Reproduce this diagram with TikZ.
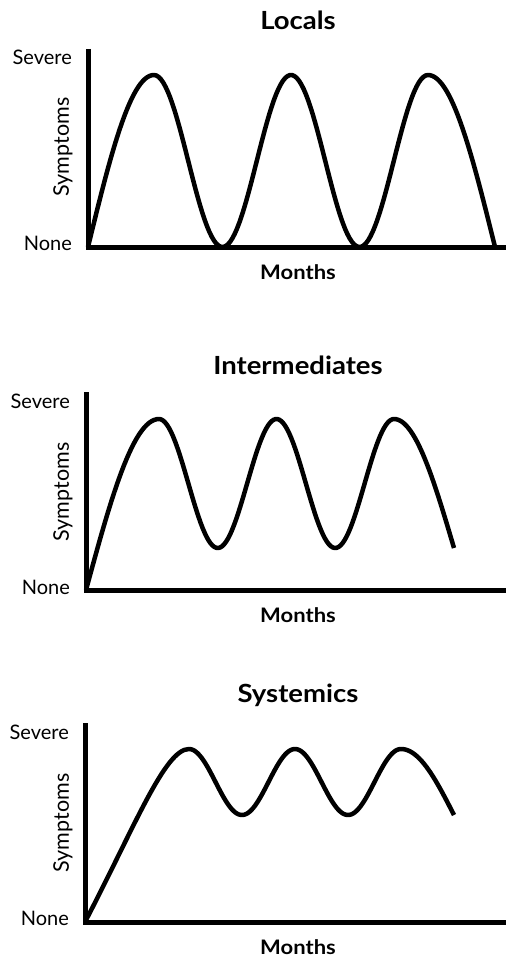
\documentclass[tikz,border=0pt]{standalone}
\usepackage{fontspec}
\setmainfont{Lato}[BoldFeatures={FakeStretch=1.1}]
\usepackage{tikz}
\usetikzlibrary{positioning}

\tikzset{
  axisline/.style={line width=5pt, line join=miter},
  symcurve/.style={line width=4.5pt, line cap=butt, line join=round},
  levlabel/.style={anchor=east, inner sep=0pt, font=\fontsize{20}{24}\selectfont},
  sympt/.style={rotate=90, inner sep=0pt, font=\fontsize{21.5}{26}\selectfont},
  monthlab/.style={inner sep=0pt, font=\fontsize{20}{24}\selectfont\bfseries},
  grouptitle/.style={inner sep=0pt, font=\fontsize{25}{30}\selectfont\bfseries}
}

\begin{document}
\begin{tikzpicture}[x=1pt, y=-1pt]
  \useasboundingbox (0,0) rectangle (506,960);

  % LOCALS
  \coordinate (top1) at (88,49);
  \coordinate (org1) at (88,247);
  \coordinate (end1) at (506,247);
  \draw[axisline] (top1) -- (org1) -- (end1);
  \node[grouptitle] (title1) at (298,20) {Locals};
  \node[levlabel] (sev1) at (72,57) {Severe};
  \node[levlabel] (non1) at (72,243) {None};
  \node[sympt] (sym1) at (63,147) {Symptoms};
  \node[monthlab] (mon1) at (298,272) {Months};
  \draw[symcurve]
    plot[domain=88:154, samples=30] ({\x},{247-172*sin(90*(\x-88)/66)})
    -- plot[domain=154:428, samples=120] ({\x},{247-86*(1+cos((\x-154)*2.6277))})
    -- plot[domain=428:495, samples=30] ({\x},{247-172*cos(90*(\x-428)/67)});

  % INTERMEDIATES
  \coordinate (top2) at (86,392);
  \coordinate (org2) at (86,590);
  \coordinate (end2) at (506,590);
  \draw[axisline] (top2) -- (org2) -- (end2);
  \node[grouptitle] (title2) at (298,365) {Intermediates};
  \node[levlabel] (sev2) at (70,401) {Severe};
  \node[levlabel] (non2) at (70,587) {None};
  \node[sympt] (sym2) at (63,492) {Symptoms};
  \node[monthlab] (mon2) at (298,615) {Months};
  \draw[symcurve]
    plot[domain=86:159, samples=30] ({\x},{590-171*sin(90*(\x-86)/73)})
    -- plot[domain=159:394, samples=120] ({\x},{548-64.5*(1+cos((\x-159)*3.0638))})
    -- plot[domain=394:454, samples=30] ({\x},{419+129*(1-cos(90*(\x-394)/60))});

  % SYSTEMICS
  \coordinate (top3) at (85,723);
  \coordinate (org3) at (85,922);
  \coordinate (pk3) at (189,749);
  \coordinate (end3) at (506,922);
  \draw[axisline] (top3) -- (org3) -- (end3);
  \node[grouptitle] (title3) at (298,695) {Systemics};
  \node[levlabel] (sev3) at (69,732) {Severe};
  \node[levlabel] (non3) at (69,918) {None};
  \node[sympt] (sym3) at (63,823) {Symptoms};
  \node[monthlab] (mon3) at (298,947) {Months};
  \draw[symcurve]
    (org3) .. controls (135,826) and (165,749) .. (pk3)
    -- plot[domain=189:401, samples=120] ({\x},{815-33*(1+cos((\x-189)*3.3962))})
    -- plot[domain=401:454, samples=30] ({\x},{749+66*(1-cos(90*(\x-401)/53))});

\end{tikzpicture}
\end{document}
